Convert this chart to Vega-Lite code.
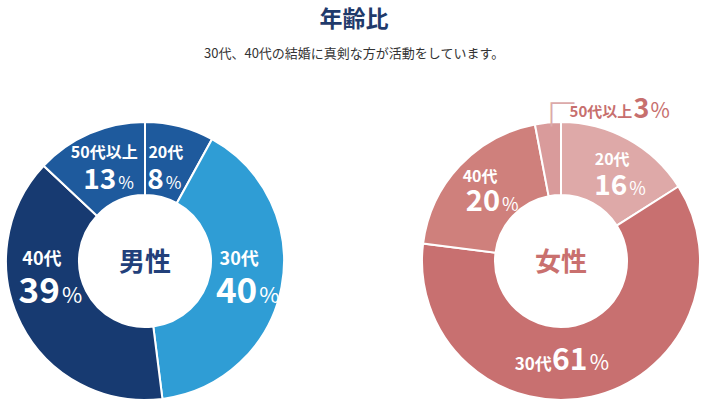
{
  "$schema": "https://vega.github.io/schema/vega-lite/v6.json",
  "padding": {"top": 9, "left": 0, "right": 0, "bottom": 0},
  "background": "#ffffff",
  "config": {"view": {"stroke": null}},
  "title": {
    "text": "年齢比",
    "subtitle": "30代、40代の結婚に真剣な方が活動をしています。",
    "font": "Noto Sans CJK JP",
    "fontSize": 23,
    "fontWeight": "bold",
    "color": "#1f3a6b",
    "subtitleFont": "Noto Sans CJK JP",
    "subtitleFontSize": 13,
    "subtitleColor": "#333333",
    "subtitlePadding": 16,
    "anchor": "middle",
    "offset": 22
  },
  "data": {
    "values": [
      {"gender": "男性", "age": "20代", "value": 8},
      {"gender": "男性", "age": "30代", "value": 40},
      {"gender": "男性", "age": "40代", "value": 39},
      {"gender": "男性", "age": "50代以上", "value": 13},
      {"gender": "女性", "age": "20代", "value": 16},
      {"gender": "女性", "age": "30代", "value": 61},
      {"gender": "女性", "age": "40代", "value": 20},
      {"gender": "女性", "age": "50代以上", "value": 3}
    ]
  },
  "spacing": 126,
  "bounds": "flush",
  "resolve": {"scale": {"color": "independent", "theta": "independent"}},
  "hconcat": [
    {
      "width": 290,
      "height": 290,
      "layer": [
        {
          "transform": [{"filter": "datum.gender === '男性'"}],
          "encoding": {
            "theta": {"field": "value", "type": "quantitative", "stack": true},
            "order": {"field": "age", "type": "nominal", "sort": "ascending"},
            "detail": {"field": "age", "type": "nominal"}
          },
          "layer": [
            {"mark": {"type": "arc", "innerRadius": 66, "outerRadius": 139, "stroke": "#ffffff", "strokeWidth": 2},
             "encoding": {"color": {"field": "age", "type": "nominal", "scale": {"domain": ["20代", "30代", "40代", "50代以上"], "range": ["#1e5a9d", "#2f9dd5", "#173a71", "#1e5a9d"]}, "legend": null}}},
            {"mark": {"type": "text", "radius": 100, "dx": -4, "dy": -6, "align": "center", "baseline": "alphabetic", "font": "Noto Sans CJK JP", "fontSize": 16, "fontWeight": "bold"},
             "encoding": {"color": {"value": "#ffffff"}, "text": {"condition": {"test": "datum.age === '20代'", "field": "age", "type": "nominal"}, "value": ""}}},
            {"mark": {"type": "text", "radius": 100, "dx": -6, "dy": 25, "align": "right", "baseline": "alphabetic", "font": "Noto Sans CJK JP", "fontSize": 28, "fontWeight": "bold"},
             "encoding": {"color": {"value": "#ffffff"}, "text": {"condition": {"test": "datum.age === '20代'", "field": "value", "type": "quantitative"}, "value": ""}}},
            {"mark": {"type": "text", "radius": 100, "dx": -4, "dy": 25, "align": "left", "baseline": "alphabetic", "font": "Noto Sans CJK JP", "fontSize": 17, "fontWeight": "normal"},
             "encoding": {"color": {"value": "#ffffff"}, "text": {"condition": {"test": "datum.age === '20代'", "value": "%"}, "value": ""}}},
            {"mark": {"type": "text", "radius": 100, "dx": -4, "dy": -15, "align": "center", "baseline": "alphabetic", "font": "Noto Sans CJK JP", "fontSize": 18, "fontWeight": "bold"},
             "encoding": {"color": {"value": "#ffffff"}, "text": {"condition": {"test": "datum.age === '30代'", "field": "age", "type": "nominal"}, "value": ""}}},
            {"mark": {"type": "text", "radius": 100, "dx": 14, "dy": 23, "align": "right", "baseline": "alphabetic", "font": "Noto Sans CJK JP", "fontSize": 35, "fontWeight": "bold"},
             "encoding": {"color": {"value": "#ffffff"}, "text": {"condition": {"test": "datum.age === '30代'", "field": "value", "type": "quantitative"}, "value": ""}}},
            {"mark": {"type": "text", "radius": 100, "dx": 16, "dy": 23, "align": "left", "baseline": "alphabetic", "font": "Noto Sans CJK JP", "fontSize": 22, "fontWeight": "normal"},
             "encoding": {"color": {"value": "#ffffff"}, "text": {"condition": {"test": "datum.age === '30代'", "value": "%"}, "value": ""}}},
            {"mark": {"type": "text", "radius": 100, "dx": -14, "dy": -41, "align": "center", "baseline": "alphabetic", "font": "Noto Sans CJK JP", "fontSize": 18, "fontWeight": "bold"},
             "encoding": {"color": {"value": "#ffffff"}, "text": {"condition": {"test": "datum.age === '40代'", "field": "age", "type": "nominal"}, "value": ""}}},
            {"mark": {"type": "text", "radius": 100, "dx": 4, "dy": -3, "align": "right", "baseline": "alphabetic", "font": "Noto Sans CJK JP", "fontSize": 35, "fontWeight": "bold"},
             "encoding": {"color": {"value": "#ffffff"}, "text": {"condition": {"test": "datum.age === '40代'", "field": "value", "type": "quantitative"}, "value": ""}}},
            {"mark": {"type": "text", "radius": 100, "dx": 6, "dy": -3, "align": "left", "baseline": "alphabetic", "font": "Noto Sans CJK JP", "fontSize": 22, "fontWeight": "normal"},
             "encoding": {"color": {"value": "#ffffff"}, "text": {"condition": {"test": "datum.age === '40代'", "value": "%"}, "value": ""}}},
            {"mark": {"type": "text", "radius": 100, "dx": -1, "dy": -11, "align": "center", "baseline": "alphabetic", "font": "Noto Sans CJK JP", "fontSize": 16, "fontWeight": "bold"},
             "encoding": {"color": {"value": "#ffffff"}, "text": {"condition": {"test": "datum.age === '50代以上'", "field": "age", "type": "nominal"}, "value": ""}}},
            {"mark": {"type": "text", "radius": 100, "dx": 11, "dy": 20, "align": "right", "baseline": "alphabetic", "font": "Noto Sans CJK JP", "fontSize": 28, "fontWeight": "bold"},
             "encoding": {"color": {"value": "#ffffff"}, "text": {"condition": {"test": "datum.age === '50代以上'", "field": "value", "type": "quantitative"}, "value": ""}}},
            {"mark": {"type": "text", "radius": 100, "dx": 13, "dy": 20, "align": "left", "baseline": "alphabetic", "font": "Noto Sans CJK JP", "fontSize": 17, "fontWeight": "normal"},
             "encoding": {"color": {"value": "#ffffff"}, "text": {"condition": {"test": "datum.age === '50代以上'", "value": "%"}, "value": ""}}}
          ]
        },
        {
          "data": {"values": [{"label": "男性"}]},
          "mark": {"type": "text", "font": "Noto Sans CJK JP", "fontSize": 26, "fontWeight": "bold", "baseline": "middle", "align": "center", "dy": 2},
          "encoding": {"color": {"value": "#22407a"}, "text": {"field": "label", "type": "nominal"}}
        }
      ]
    },
    {
      "width": 290,
      "height": 290,
      "layer": [
        {
          "transform": [{"filter": "datum.gender === '女性'"}],
          "encoding": {
            "theta": {"field": "value", "type": "quantitative", "stack": true},
            "order": {"field": "age", "type": "nominal", "sort": "ascending"},
            "detail": {"field": "age", "type": "nominal"}
          },
          "layer": [
            {"mark": {"type": "arc", "innerRadius": 66, "outerRadius": 139, "stroke": "#ffffff", "strokeWidth": 2},
             "encoding": {"color": {"field": "age", "type": "nominal", "scale": {"domain": ["20代", "30代", "40代", "50代以上"], "range": ["#dea9a8", "#c87070", "#cf807c", "#d99b9b"]}, "legend": null}}},
            {"mark": {"type": "text", "radius": 100, "dx": 3, "dy": -8, "align": "center", "baseline": "alphabetic", "font": "Noto Sans CJK JP", "fontSize": 16, "fontWeight": "bold"},
             "encoding": {"color": {"value": "#ffffff"}, "text": {"condition": {"test": "datum.age === '20代'", "field": "age", "type": "nominal"}, "value": ""}}},
            {"mark": {"type": "text", "radius": 100, "dx": 18, "dy": 22, "align": "right", "baseline": "alphabetic", "font": "Noto Sans CJK JP", "fontSize": 28, "fontWeight": "bold"},
             "encoding": {"color": {"value": "#ffffff"}, "text": {"condition": {"test": "datum.age === '20代'", "field": "value", "type": "quantitative"}, "value": ""}}},
            {"mark": {"type": "text", "radius": 100, "dx": 20, "dy": 22, "align": "left", "baseline": "alphabetic", "font": "Noto Sans CJK JP", "fontSize": 18, "fontWeight": "normal"},
             "encoding": {"color": {"value": "#ffffff"}, "text": {"condition": {"test": "datum.age === '20代'", "value": "%"}, "value": ""}}},
            {"mark": {"type": "text", "radius": 100, "dx": -31, "dy": 11, "align": "right", "baseline": "alphabetic", "font": "Noto Sans CJK JP", "fontSize": 17, "fontWeight": "bold"},
             "encoding": {"color": {"value": "#ffffff"}, "text": {"condition": {"test": "datum.age === '30代'", "field": "age", "type": "nominal"}, "value": ""}}},
            {"mark": {"type": "text", "radius": 100, "dx": -13, "dy": 11, "align": "center", "baseline": "alphabetic", "font": "Noto Sans CJK JP", "fontSize": 30, "fontWeight": "bold"},
             "encoding": {"color": {"value": "#ffffff"}, "text": {"condition": {"test": "datum.age === '30代'", "field": "value", "type": "quantitative"}, "value": ""}}},
            {"mark": {"type": "text", "radius": 100, "dx": 7, "dy": 11, "align": "left", "baseline": "alphabetic", "font": "Noto Sans CJK JP", "fontSize": 21, "fontWeight": "normal"},
             "encoding": {"color": {"value": "#ffffff"}, "text": {"condition": {"test": "datum.age === '30代'", "value": "%"}, "value": ""}}},
            {"mark": {"type": "text", "radius": 100, "dx": -8, "dy": -11, "align": "center", "baseline": "alphabetic", "font": "Noto Sans CJK JP", "fontSize": 16, "fontWeight": "bold"},
             "encoding": {"color": {"value": "#ffffff"}, "text": {"condition": {"test": "datum.age === '40代'", "field": "age", "type": "nominal"}, "value": ""}}},
            {"mark": {"type": "text", "radius": 100, "dx": 12, "dy": 18, "align": "right", "baseline": "alphabetic", "font": "Noto Sans CJK JP", "fontSize": 29, "fontWeight": "bold"},
             "encoding": {"color": {"value": "#ffffff"}, "text": {"condition": {"test": "datum.age === '40代'", "field": "value", "type": "quantitative"}, "value": ""}}},
            {"mark": {"type": "text", "radius": 100, "dx": 14, "dy": 18, "align": "left", "baseline": "alphabetic", "font": "Noto Sans CJK JP", "fontSize": 18, "fontWeight": "normal"},
             "encoding": {"color": {"value": "#ffffff"}, "text": {"condition": {"test": "datum.age === '40代'", "value": "%"}, "value": ""}}},
            {"mark": {"type": "text", "radius": 100, "dx": 18, "dy": -44, "align": "left", "baseline": "alphabetic", "font": "Noto Sans CJK JP", "fontSize": 15, "fontWeight": "bold"},
             "encoding": {"color": {"value": "#c76f6e"}, "text": {"condition": {"test": "datum.age === '50代以上'", "field": "age", "type": "nominal"}, "value": ""}}},
            {"mark": {"type": "text", "radius": 100, "dx": 82, "dy": -43, "align": "left", "baseline": "alphabetic", "font": "Noto Sans CJK JP", "fontSize": 27, "fontWeight": "bold"},
             "encoding": {"color": {"value": "#c76f6e"}, "text": {"condition": {"test": "datum.age === '50代以上'", "field": "value", "type": "quantitative"}, "value": ""}}},
            {"mark": {"type": "text", "radius": 100, "dx": 99, "dy": -43, "align": "left", "baseline": "alphabetic", "font": "Noto Sans CJK JP", "fontSize": 21, "fontWeight": "normal"},
             "encoding": {"color": {"value": "#c76f6e"}, "text": {"condition": {"test": "datum.age === '50代以上'", "value": "%"}, "value": ""}}},
            {"mark": {"type": "text", "radius": 100, "dx": 0, "dy": -41, "align": "center", "baseline": "alphabetic", "font": "Noto Sans CJK JP", "fontSize": 46, "fontWeight": "normal"},
             "encoding": {"color": {"value": "#dcaaaa"}, "text": {"condition": {"test": "datum.age === '50代以上'", "value": "┌"}, "value": ""}}}
          ]
        },
        {
          "data": {"values": [{"label": "女性"}]},
          "mark": {"type": "text", "font": "Noto Sans CJK JP", "fontSize": 26, "fontWeight": "bold", "baseline": "middle", "align": "center", "dy": 2},
          "encoding": {"color": {"value": "#c9706e"}, "text": {"field": "label", "type": "nominal"}}
        }
      ]
    }
  ]
}
